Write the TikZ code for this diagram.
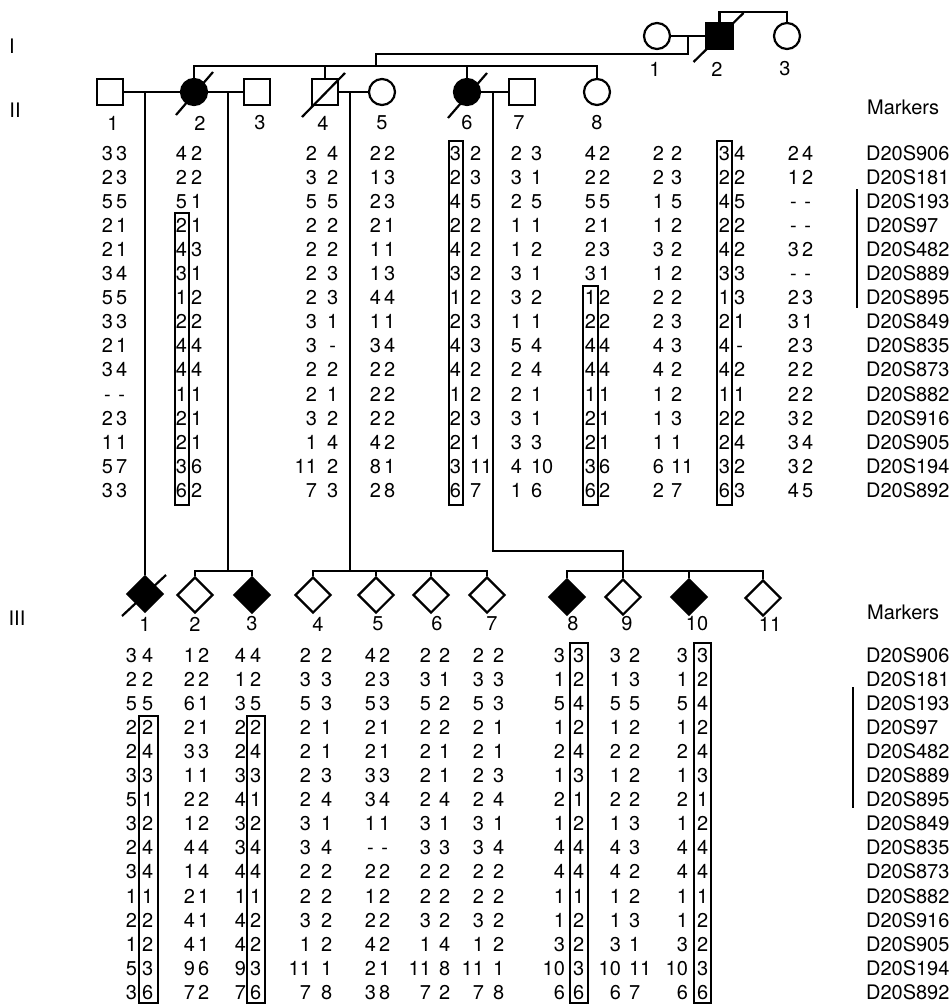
\documentclass[tikz,border=0pt]{standalone}
\usepackage{fontspec}
\setmainfont{TeX Gyre Heros}
\usetikzlibrary{shapes.geometric}

% missing allele, set in a digit-wide box
\newcommand{\dsh}{\makebox[0.556em]{-}}
% one haplotype column: name, right edge of first allele, left edge of second, first row, pairs
\newcommand{\hapcol}[5]{%
  \foreach \a/\b [count=\r] in {#5} {
    \node[allele,anchor=east] (#1a\r) at (#2,{#4+24.1*(\r-1)}) {\a};
    \node[allele,anchor=west] (#1b\r) at (#3,{#4+24.1*(\r-1)}) {\b};
  }}

\begin{document}
\begin{tikzpicture}[x=1pt,y=-1pt,line width=2.2pt,
    txt/.style={inner sep=0,font=\fontsize{20}{23}\selectfont},
    allele/.style={txt,text height=14pt,text depth=0pt},
    male/.style={draw,rectangle,minimum size=26,inner sep=0},
    female/.style={draw,circle,minimum size=26,inner sep=0},
    sexunk/.style={draw,diamond,minimum size=36,inner sep=0},
    affected/.style={fill=black},
    hapbox/.style={line width=1.6pt}]
    \useasboundingbox (0,0) rectangle (951,1004);

    % generation I
    \node[female] (I1) at (657,36) {};
    \node[male,affected] (I2) at (719.5,36) {};
    \node[female] (I3) at (787,36) {};
    \draw ([shift={(-26,26)}]I2.center) -- ([shift={(24,-23)}]I2.center);
    \draw (I1) -- (I2);
    \draw (I2.north) -- ++(0,-10) -| (I3.north);
    \coordinate (mI) at (688,36);

    % generation II
    \node[male] (II1) at (110,92) {};
    \node[female,affected] (II2) at (194,92) {};
    \node[male] (II3) at (257,92) {};
    \node[male] (II4) at (325,92) {};
    \node[female] (II5) at (382,92) {};
    \node[female,affected] (II6) at (467,92) {};
    \node[male] (II7) at (522,92) {};
    \node[female] (II8) at (597,92) {};
    \draw ([shift={(-18,23)}]II2.center) -- ([shift={(19,-20)}]II2.center);
    \draw ([shift={(-23,25)}]II4.center) -- ([shift={(20,-19)}]II4.center);
    \draw ([shift={(-19,26)}]II6.center) -- ([shift={(20,-19)}]II6.center);

    \coordinate (sII) at (376,66);
    \draw (mI) -- ++(0,18) -| (sII);
    \draw (II2.north) |- (sII) -| (II8.north);
    \draw (II4.north) -- (II4.north |- sII);
    \draw (II6.north) -- (II6.north |- sII);

    \draw (II1) -- (II2);
    \draw (II2) -- (II3);
    \draw (II4) -- (II5);
    \draw (II6) -- (II7);
    \coordinate (m12) at (145,92);
    \coordinate (m23) at (228,92);
    \coordinate (m45) at (350,92);
    \coordinate (m67) at (493,92);

    % generation III
    \node[sexunk,affected] (III1) at (145,594) {};
    \node[sexunk] (III2) at (195,595) {};
    \node[sexunk,affected] (III3) at (252,595) {};
    \node[sexunk] (III4) at (313,595) {};
    \node[sexunk] (III5) at (376,595) {};
    \node[sexunk] (III6) at (431,595) {};
    \node[sexunk] (III7) at (487,595) {};
    \node[sexunk,affected] (III8) at (567,597) {};
    \node[sexunk] (III9) at (623,597) {};
    \node[sexunk,affected] (III10) at (689,597) {};
    \node[sexunk] (III11) at (763,598) {};
    \draw ([shift={(-23,22)}]III1.center) -- ([shift={(21,-19)}]III1.center);

    \draw (m12) -- (III1);
    \coordinate (s23) at (228,571);
    \draw (m23) -- (s23);
    \draw (III2.north) |- (s23) -| (III3.north);
    \coordinate (s47) at (350,571);
    \draw (m45) -- (s47);
    \draw (III4.north) |- (s47) -| (III7.north);
    \draw (III5.north) -- (III5.north |- s47);
    \draw (III6.north) -- (III6.north |- s47);
    \coordinate (s811) at (623,571);
    \draw (m67) -- ++(0,459) -| (s811);
    \draw (III8.north) |- (s811) -| (III11.north);
    \draw (III9.north) -- (s811);
    \draw (III10.north) -- (III10.north |- s811);

    % labels
    \node[txt] (gI) at (12,46) {I};
    \node[txt] (gII) at (15,110) {II};
    \node[txt] (gIII) at (17,618) {III};
    \foreach \n/\x in {1/655,2/717,3/785}
      \node[txt] (lI\n) at (\x,69) {\n};
    \foreach \n/\x in {1/113,2/200,3/260,4/323,5/382,6/467,7/519,8/597}
      \node[txt] (lII\n) at (\x,123) {\n};
    \foreach \n/\x in {1/145,2/195,3/252,4/318,5/378,6/437,7/492,8/573,9/627,10/697,11/770}
      \node[txt] (lIII\n) at (\x,624) {\n};

    \node[txt,anchor=west] (mkIIt) at (866,107) {Markers};
    \node[txt,anchor=west] (mkIIIt) at (866,612) {Markers};
    \foreach \m [count=\r] in {D20S906,D20S181,D20S193,D20S97,D20S482,D20S889,D20S895,D20S849,D20S835,D20S873,D20S882,D20S916,D20S905,D20S194,D20S892} {
      \node[allele,anchor=west] (mkII\r) at (865,{153+24.1*(\r-1)}) {\m};
      \node[allele,anchor=west] (mkIII\r) at (865,{655+24.1*(\r-1)}) {\m};
    }
    \draw ([shift={(-8,-4)}]mkII3.north west) -- ([shift={(-8,2)}]mkII7.south west);
    \draw ([shift={(-12,-8)}]mkIII3.north west) -- ([shift={(-12,0)}]mkIII7.south west);

    % haplotypes, generation II
    \hapcol{hII1}{114}{115}{153}{3/3,2/3,5/5,2/1,2/1,3/4,5/5,3/3,2/1,3/4,\dsh/\dsh,2/3,1/1,5/7,3/3}
    \hapcol{hII2}{188}{190}{153}{4/2,2/2,5/1,2/1,4/3,3/1,1/2,2/2,4/4,4/4,1/1,2/1,2/1,3/6,6/2}
    \hapcol{hII4}{318}{326}{153}{2/4,3/2,5/5,2/2,2/2,2/3,2/3,3/1,3/\dsh,2/2,2/1,3/2,1/4,11/2,7/3}
    \hapcol{hII5}{382}{383}{153}{2/2,1/3,2/3,2/1,1/1,1/3,4/4,1/1,3/4,2/2,2/2,2/2,4/2,8/1,2/8}
    \hapcol{hII6}{462}{469}{153}{3/2,2/3,4/5,2/2,4/2,3/2,1/2,2/3,4/3,4/2,1/2,2/3,2/1,3/11,6/7}
    \hapcol{hII7}{523}{530}{153}{2/3,3/1,2/5,1/1,1/2,3/1,3/2,1/1,5/4,2/4,2/1,3/1,3/3,4/10,1/6}
    \hapcol{hII8}{597}{598}{153}{4/2,2/2,5/5,2/1,2/3,3/1,1/2,2/2,4/4,4/4,1/1,2/1,2/1,3/6,6/2}
    \hapcol{hIIa}{665}{670}{153}{2/2,2/3,1/5,1/2,3/2,1/2,2/2,2/3,4/3,4/2,1/2,1/3,1/1,6/11,2/7}
    \hapcol{hIIb}{731}{733}{153}{3/4,2/2,4/5,2/2,4/2,3/3,1/3,2/1,4/\dsh,4/2,1/1,2/2,2/4,3/2,6/3}
    \hapcol{hIIc}{800}{801}{153}{2/4,1/2,\dsh/\dsh,\dsh/\dsh,3/2,\dsh/\dsh,2/3,3/1,2/3,2/2,2/2,3/2,3/4,3/2,4/5}

    % haplotypes, generation III
    \hapcol{hIII1}{138}{141}{655}{3/4,2/2,5/5,2/2,2/4,3/3,5/1,3/2,2/4,3/4,1/1,2/2,1/2,5/3,3/6}
    \hapcol{hIII2}{196}{197}{655}{1/2,2/2,6/1,2/1,3/3,1/1,2/2,1/2,4/4,1/4,2/1,4/1,4/1,9/6,7/2}
    \hapcol{hIII3}{247}{249}{655}{4/4,1/2,3/5,2/2,2/4,3/3,4/1,3/2,3/4,4/4,1/1,4/2,4/2,9/3,7/6}
    \hapcol{hIII4}{312}{320}{655}{2/2,3/3,5/3,2/1,2/1,2/3,2/4,3/1,3/4,2/2,2/2,3/2,1/2,11/1,7/8}
    \hapcol{hIII5}{377}{378}{655}{4/2,2/3,5/3,2/1,2/1,3/3,3/4,1/1,\dsh/\dsh,2/2,1/2,2/2,4/2,2/1,3/8}
    \hapcol{hIII6}{432}{438}{655}{2/2,3/1,5/2,2/2,2/1,2/1,2/4,3/1,3/3,2/2,2/2,3/2,1/4,11/8,7/2}
    \hapcol{hIII7}{485}{492}{655}{2/2,3/3,5/3,2/1,2/1,2/3,2/4,3/1,3/4,2/2,2/2,3/2,1/2,11/1,7/8}
    \hapcol{hIII8}{566}{572}{655}{3/3,1/2,5/4,1/2,2/4,1/3,2/1,1/2,4/4,4/4,1/1,1/2,3/2,10/3,6/6}
    \hapcol{hIII9}{622}{628}{655}{3/2,1/3,5/5,1/2,2/2,1/2,2/2,1/3,4/3,4/2,1/2,1/3,3/1,10/11,6/7}
    \hapcol{hIII10}{689}{696}{655}{3/3,1/2,5/4,1/2,2/4,1/3,2/1,1/2,4/4,4/4,1/1,1/2,3/2,10/3,6/6}

    % shared haplotype boxes
    \foreach \xl/\xr/\yt/\yb in {175/189/213/505,449/463/141/505,583/598/286/505,717/732/141/505,
        139/158/716/1003,247/265/716/1003,570/588/643/1003,694/711/643/1003}
      \draw[hapbox] (\xl,\yt) rectangle (\xr,\yb);
\end{tikzpicture}
\end{document}
